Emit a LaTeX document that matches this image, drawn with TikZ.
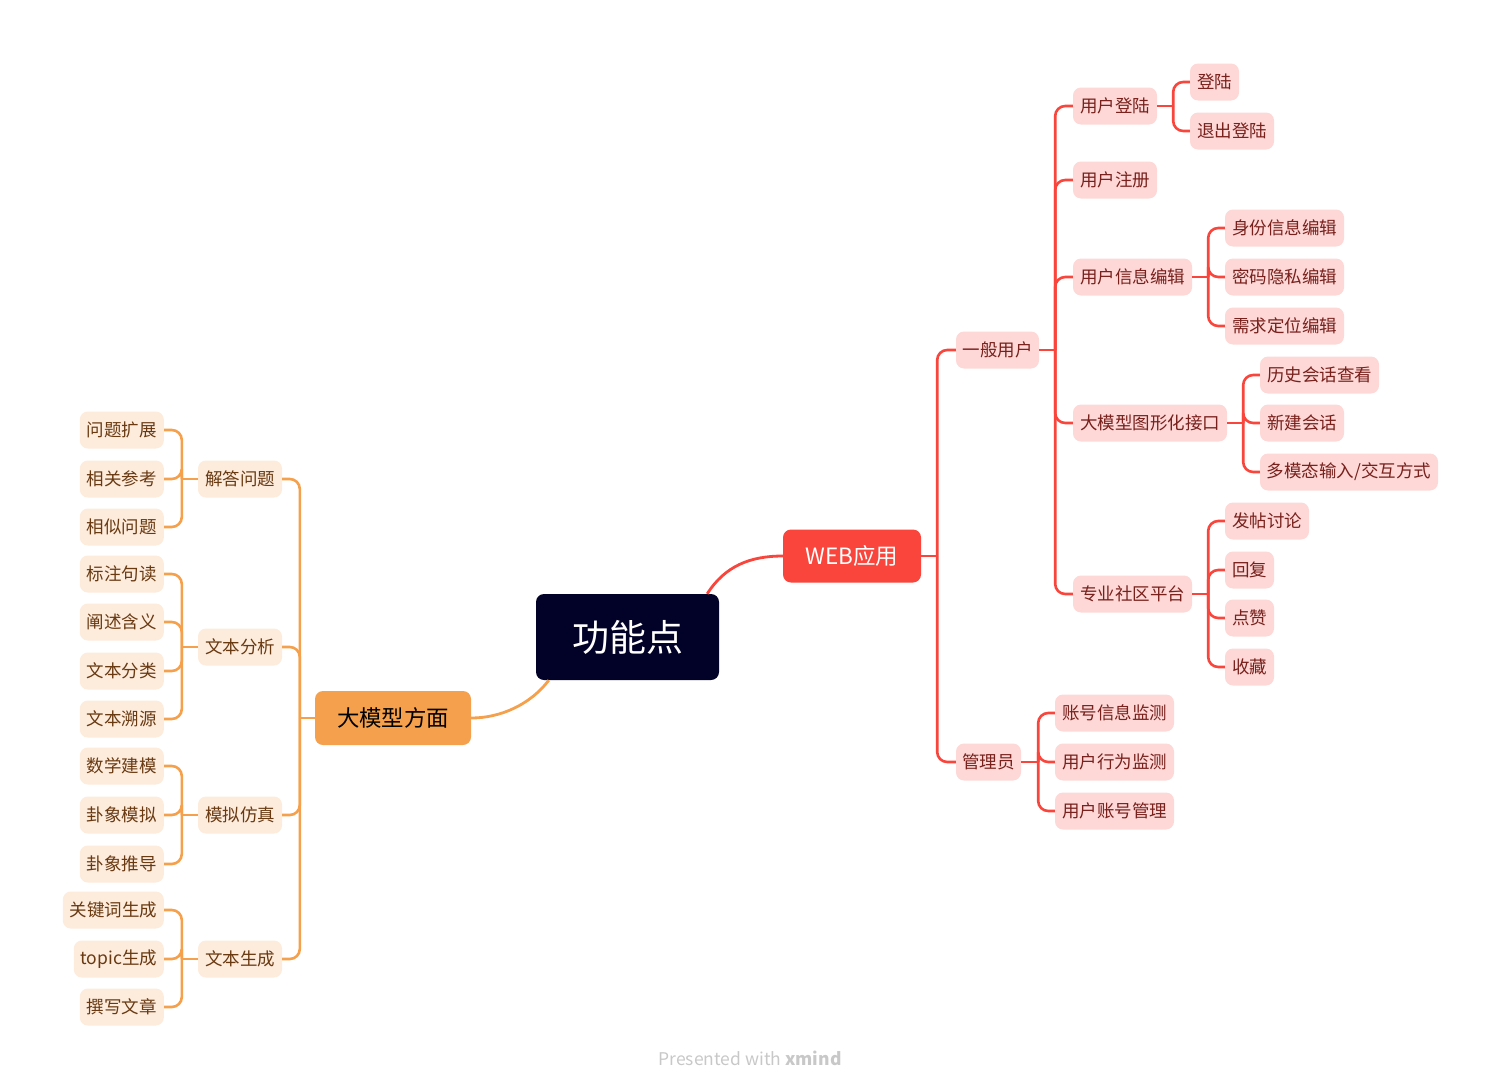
\documentclass[tikz,border=0pt]{standalone}
\usepackage{fontspec}
\setmainfont{Noto Sans CJK SC}
\usetikzlibrary{calc}
\definecolor{pkfill}{RGB}{253,216,214}
\definecolor{pktext}{RGB}{120,32,28}
\definecolor{ogfill}{RGB}{253,235,220}
\definecolor{ogtext}{RGB}{105,58,18}
\definecolor{redc}{RGB}{249,69,60}
\definecolor{orc}{RGB}{245,160,76}
\definecolor{navy}{RGB}{2,2,40}
\definecolor{footg}{RGB}{200,200,200}
\begin{document}
\begin{tikzpicture}[x=1pt,y=-1pt,
  base/.style={rounded corners=8pt, minimum height=37pt, inner sep=0pt, font=\fontsize{17.5}{20}\selectfont},
  pk/.style={base, fill=pkfill, text=pktext},
  og/.style={base, fill=ogfill, text=ogtext},
  rl/.style={draw=redc, line width=2.6pt, rounded corners=10pt},
  ol/.style={draw=orc, line width=2.6pt, rounded corners=10pt}]
\useasboundingbox (0,0) rectangle (1501,1090);

% main nodes
\node[fill=navy, text=white, rounded corners=8pt, minimum width=183pt, minimum height=86pt, inner sep=0pt, font=\fontsize{37}{40}\selectfont] (c) at (627.5,637) {功能点};
\node[fill=redc, text=white, rounded corners=8pt, minimum width=138pt, minimum height=53pt, inner sep=0pt, font=\fontsize{22.5}{24}\selectfont] (web) at (852,556) {WEB应用};
\node[fill=orc, text=black, rounded corners=8pt, minimum width=156pt, minimum height=54pt, inner sep=0pt, font=\fontsize{22.4}{24}\selectfont] (bm) at (393,718) {大模型方面};

% right side
\node[pk, minimum width=83pt] (gen) at (997.5,350) {一般用户};
\node[pk, minimum width=65pt] (adm) at (988.5,762) {管理员};
\node[pk, minimum width=84pt] (r1) at (1115,106) {用户登陆};
\node[pk, minimum width=84pt] (r2) at (1115,180) {用户注册};
\node[pk, minimum width=119pt] (r3) at (1132.5,277) {用户信息编辑};
\node[pk, minimum width=154pt] (r4) at (1150,423) {大模型图形化接口};
\node[pk, minimum width=119pt] (r5) at (1132.5,594) {专业社区平台};
\node[pk, minimum width=49pt] (r11) at (1214.5,82) {登陆};
\node[pk, minimum width=84pt] (r12) at (1232,131) {退出登陆};
\node[pk, minimum width=119pt] (r31) at (1284.5,228) {身份信息编辑};
\node[pk, minimum width=119pt] (r32) at (1284.5,277) {密码隐私编辑};
\node[pk, minimum width=119pt] (r33) at (1284.5,326) {需求定位编辑};
\node[pk, minimum width=119pt] (r41) at (1319.5,375) {历史会话查看};
\node[pk, minimum width=84pt] (r42) at (1302,423) {新建会话};
\node[pk, minimum width=178pt] (r43) at (1349,472) {多模态输入/交互方式};
\node[pk, minimum width=84pt] (r51) at (1267,521) {发帖讨论};
\node[pk, minimum width=49pt] (r52) at (1249.5,570) {回复};
\node[pk, minimum width=49pt] (r53) at (1249.5,618) {点赞};
\node[pk, minimum width=49pt] (r54) at (1249.5,667) {收藏};
\node[pk, minimum width=119pt] (a1) at (1114.5,713) {账号信息监测};
\node[pk, minimum width=119pt] (a2) at (1114.5,762) {用户行为监测};
\node[pk, minimum width=119pt] (a3) at (1114.5,811) {用户账号管理};

% left side
\node[og, minimum width=84pt] (l1) at (240,479) {解答问题};
\node[og, minimum width=84pt] (l2) at (240,647) {文本分析};
\node[og, minimum width=84pt] (l3) at (240,815) {模拟仿真};
\node[og, minimum width=84pt] (l4) at (240,959) {文本生成};
\node[og, minimum width=84pt, anchor=east] (l11) at (164,430) {问题扩展};
\node[og, minimum width=84pt, anchor=east] (l12) at (164,479) {相关参考};
\node[og, minimum width=84pt, anchor=east] (l13) at (164,527) {相似问题};
\node[og, minimum width=84pt, anchor=east] (l21) at (164,574) {标注句读};
\node[og, minimum width=84pt, anchor=east] (l22) at (164,622) {阐述含义};
\node[og, minimum width=84pt, anchor=east] (l23) at (164,671) {文本分类};
\node[og, minimum width=84pt, anchor=east] (l24) at (164,719) {文本溯源};
\node[og, minimum width=84pt, anchor=east] (l31) at (164,766) {数学建模};
\node[og, minimum width=84pt, anchor=east] (l32) at (164,815) {卦象模拟};
\node[og, minimum width=84pt, anchor=east] (l33) at (164,864) {卦象推导};
\node[og, minimum width=101pt, anchor=east] (l41) at (164,910) {关键词生成};
\node[og, minimum width=90pt, anchor=east] (l42) at (164,959) {topic生成};
\node[og, minimum width=84pt, anchor=east] (l43) at (164,1007) {撰写文章};

% central connectors
\draw[draw=redc, line width=2.8pt] ([xshift=-12pt]c.north east) .. controls (725,566) and (750,556) .. (web.west);
\draw[draw=orc, line width=2.8pt] ([xshift=13pt]c.south west) .. controls (530,705) and (500,718) .. (bm.east);

% right trunks
\coordinate (tw) at ([xshift=16pt]web.east);
\draw[rl] (web.east) -- (tw);
\foreach \n in {gen,adm} \draw[rl] (tw) |- (\n.west);

\coordinate (tg) at ([xshift=16pt]gen.east);
\draw[rl] (gen.east) -- (tg);
\foreach \n in {r1,r2,r3,r4,r5} \draw[rl] (tg) |- (\n.west);

\coordinate (t1) at ([xshift=16pt]r1.east);
\draw[rl] (r1.east) -- (t1);
\foreach \n in {r11,r12} \draw[rl] (t1) |- (\n.west);

\coordinate (t3) at ([xshift=16pt]r3.east);
\draw[rl] (r3.east) -- (t3);
\foreach \n in {r31,r32,r33} \draw[rl] (t3) |- (\n.west);

\coordinate (t4) at ([xshift=16pt]r4.east);
\draw[rl] (r4.east) -- (t4);
\foreach \n in {r41,r42,r43} \draw[rl] (t4) |- (\n.west);

\coordinate (t5) at ([xshift=16pt]r5.east);
\draw[rl] (r5.east) -- (t5);
\foreach \n in {r51,r52,r53,r54} \draw[rl] (t5) |- (\n.west);

\coordinate (ta) at ([xshift=17pt]adm.east);
\draw[rl] (adm.east) -- (ta);
\foreach \n in {a1,a2,a3} \draw[rl] (ta) |- (\n.west);

% left trunks
\coordinate (tb) at ([xshift=-15pt]bm.west);
\draw[ol] (bm.west) -- (tb);
\foreach \n in {l1,l2,l3,l4} \draw[ol] (tb) |- (\n.east);

\coordinate (u1) at ([xshift=-16pt]l1.west);
\draw[ol] (l1.west) -- (u1);
\foreach \n in {l11,l12,l13} \draw[ol] (u1) |- (\n.east);

\coordinate (u2) at ([xshift=-16pt]l2.west);
\draw[ol] (l2.west) -- (u2);
\foreach \n in {l21,l22,l23,l24} \draw[ol] (u2) |- (\n.east);

\coordinate (u3) at ([xshift=-16pt]l3.west);
\draw[ol] (l3.west) -- (u3);
\foreach \n in {l31,l32,l33} \draw[ol] (u3) |- (\n.east);

\coordinate (u4) at ([xshift=-16pt]l4.west);
\draw[ol] (l4.west) -- (u4);
\foreach \n in {l41,l42,l43} \draw[ol] (u4) |- (\n.east);

% footer
\node[text=footg, font=\fontsize{17.5}{19}\selectfont, inner sep=0pt] (foot) at (750,1058) {Presented with \textbf{xmind}};
\end{tikzpicture}
\end{document}
